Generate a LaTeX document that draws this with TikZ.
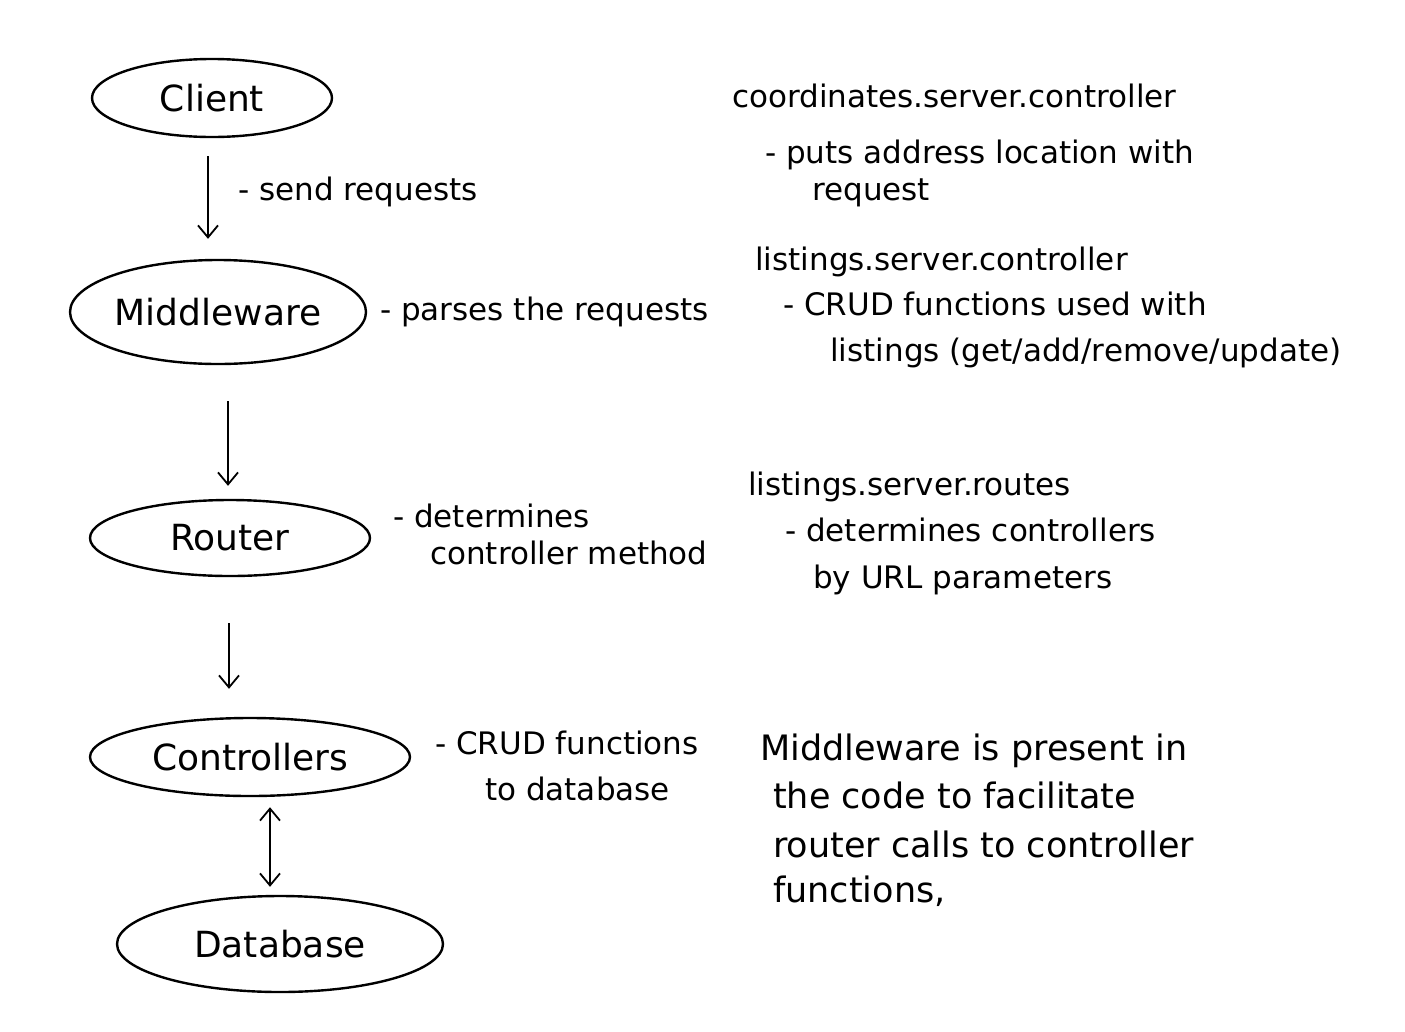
\documentclass[tikz,border=0pt]{standalone}
\usepackage{fontspec}
\setmainfont{DejaVu Sans}
\usetikzlibrary{arrows.meta,shapes.geometric}
\begin{document}
\begin{tikzpicture}[x=1pt,y=-1pt,
  ell/.style={draw,ellipse,line width=2.4pt,inner sep=0pt,font=\fontsize{36}{42}\selectfont},
  txt/.style={anchor=base west,inner sep=0pt,font=\fontsize{31}{36}\selectfont},
  bigtxt/.style={txt,font=\fontsize{35}{40}\selectfont},
  arr/.style={line width=1.8pt,-{Straight Barb[length=12pt,width=20pt,line width=1.8pt]}},
  darr/.style={line width=1.8pt,{Straight Barb[length=12pt,width=20pt,line width=1.8pt]}-{Straight Barb[length=12pt,width=20pt,line width=1.8pt]}}]
\useasboundingbox (0,0) rectangle (1405,1031);
\fill[white] (0,0) rectangle (1405,1031);
% ellipses
\node[ell,minimum width=240,minimum height=78] (client) at (212,98) {Client};
\node[ell,minimum width=296,minimum height=104] (mid) at (218,312) {\raisebox{-8pt}{Middleware}};
\node[ell,minimum width=280,minimum height=76] (router) at (230,538) {Router};
\node[ell,minimum width=320,minimum height=78] (ctrl) at (250,757) {Controllers};
\node[ell,minimum width=326,minimum height=96] (db) at (280,944) {Database};
% arrows
\draw[arr] ([shift={(-4,18)}]client.south) -- ([shift={(-10,-20)}]mid.north);
\draw[arr] ([shift={(10,36)}]mid.south) -- ([shift={(-2,-13)}]router.north);
\draw[arr] ([shift={(-1,46)}]router.south) -- ([shift={(-21,-28)}]ctrl.north);
\draw[darr] ([shift={(20,10)}]ctrl.south) -- ([shift={(-10,-8)}]db.north);
% left labels
\node[txt] (l1) at (238,200) {- send requests};
\node[txt] (l2) at (380,320) {- parses the requests};
\node[txt] (l3a) at (393,527) {- determines};
\node[txt] (l3b) at (430,564) {controller method};
\node[txt] (l4a) at (435,754) {- CRUD functions};
\node[txt] (l4b) at (485,800) {to database};
% right notes
\node[txt] (r1) at (732,107) {coordinates.server.controller};
\node[txt] (r2) at (765,163) {- puts address location with};
\node[txt] (r3) at (812,200) {request};
\node[txt] (r4) at (755,270) {listings.server.controller};
\node[txt] (r5) at (783,315) {- CRUD functions used with};
\node[txt] (r6) at (830,361) {listings (get/add/remove/update)};
\node[txt] (r7) at (748,495) {listings.server.routes};
\node[txt] (r8) at (785,541) {- determines controllers};
\node[txt] (r9) at (813,588) {by URL parameters};
\node[bigtxt] (r10) at (760,760) {Middleware is present in};
\node[bigtxt] (r11) at (773,808) {the code to facilitate};
\node[bigtxt] (r12) at (773,857) {router calls to controller};
\node[bigtxt] (r13) at (773,902) {functions,};
\end{tikzpicture}
\end{document}
